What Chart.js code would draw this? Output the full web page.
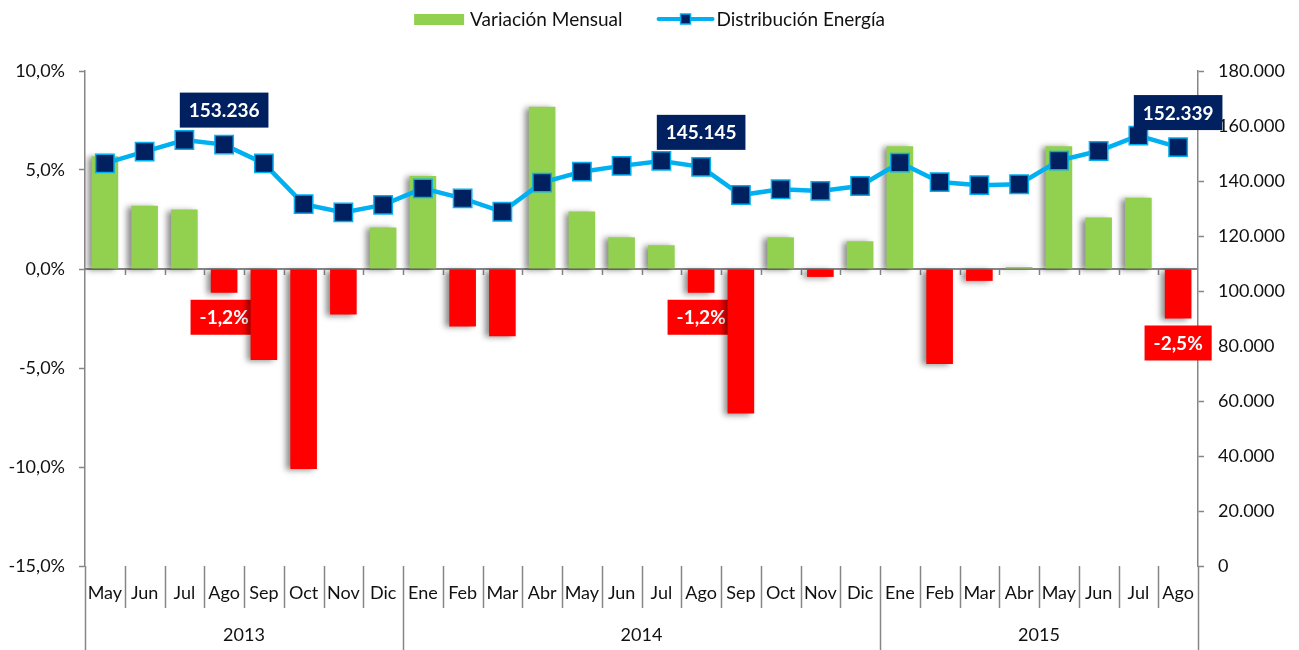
<!DOCTYPE html>
<html lang="es">
<head>
<meta charset="utf-8">
<title>Variación Mensual y Distribución Energía</title>
<script src="https://cdn.jsdelivr.net/npm/chart.js@4.4.0/dist/chart.umd.min.js"></script>
<style>
  html, body { margin: 0; padding: 0; background: #fff; }
  #wrap { width: 1299px; height: 650px; position: relative; }
</style>
</head>
<body>
<div id="wrap"><canvas id="energyChart"></canvas></div>
<script>
// data
const months = ["May", "Jun", "Jul", "Ago", "Sep", "Oct", "Nov", "Dic",
  "Ene", "Feb", "Mar", "Abr", "May", "Jun", "Jul", "Ago", "Sep", "Oct", "Nov", "Dic",
  "Ene", "Feb", "Mar", "Abr", "May", "Jun", "Jul", "Ago"];
const years = ["2013", "2014", "2015"];
const monthsPerYear = [8, 12, 8];

// % monthly change (left axis)
const variacion = [5.7, 3.2, 3.0, -1.2, -4.6, -10.1, -2.3, 2.1,
  4.7, -2.9, -3.4, 8.2, 2.9, 1.6, 1.2, -1.2, -7.3, 1.6, -0.4, 1.4,
  6.2, -4.8, -0.6, 0.1, 6.2, 2.6, 3.6, -2.5];

// energy distribution (right axis)
const distribucion = [146400, 150700, 154900, 153236, 146400, 131600, 128600, 131300,
  137300, 133700, 128800, 139400, 143400, 145500, 147300, 145145, 134900, 137000, 136400, 138200,
  146700, 139600, 138500, 138800, 147400, 150900, 156500, 152339];

const leftTicks = [-15, -10, -5, 0, 5, 10];
const rightTicks = [0, 20000, 40000, 60000, 80000, 100000, 120000, 140000, 160000, 180000];

const FONT = "Lato, 'Open Sans', sans-serif";
const GREEN = "#92D050";
const RED = "#FF0000";
const CYAN = "#00B0F0";
const NAVY = "#002060";
const AXIS = "#868686";

function pct(v) {
  return v.toFixed(1).replace(".", ",") + "%";
}
function miles(v) {
  return String(Math.round(v)).replace(/\B(?=(\d{3})+(?!\d))/g, ".");
}

function labelBox(ctx, text, cx, top, bg) {
  ctx.font = "bold 19px " + FONT;
  const w = ctx.measureText(text).width + 18;
  const h = 35;
  ctx.fillStyle = bg;
  ctx.fillRect(cx - w / 2, top, w, h);
  ctx.fillStyle = "#fff";
  ctx.textAlign = "center";
  ctx.textBaseline = "middle";
  ctx.fillText(text, cx, top + h / 2 + 1);
}

// bar shadows like the excel original
const barShadow = {
  id: "barShadow",
  beforeDatasetDraw(chart, args) {
    if (args.meta.type !== "bar") return;
    const ctx = chart.ctx;
    ctx.save();
    ctx.shadowColor = "rgba(0,0,0,0.45)";
    ctx.shadowBlur = 6;
    ctx.shadowOffsetX = -4;
    ctx.shadowOffsetY = 1;
  },
  afterDatasetDraw(chart, args) {
    if (args.meta.type !== "bar") return;
    chart.ctx.restore();
  }
};

const excelBits = {
  id: "excelBits",
  beforeDatasetsDraw(chart) {
    const { ctx, scales: { x, y } } = chart;
    const n = months.length;
    const w = (x.right - x.left) / n;
    const y0 = y.getPixelForValue(0);
    ctx.save();
    // category axis crossing at zero
    ctx.strokeStyle = AXIS;
    ctx.lineWidth = 2;
    ctx.beginPath();
    ctx.moveTo(x.left, y0);
    ctx.lineTo(x.right, y0);
    ctx.stroke();
    ctx.lineWidth = 1.5;
    ctx.beginPath();
    for (let i = 1; i < n; i++) {
      const px = Math.round(x.left + i * w) + 0.5;
      ctx.moveTo(px, y0);
      ctx.lineTo(px, y0 + 6);
    }
    ctx.stroke();
    // August labels under the bars (next bar covers them, as in the original)
    const bars = chart.getDatasetMeta(0).data;
    months.forEach((m, i) => {
      if (m !== "Ago") return;
      const b = bars[i];
      labelBox(ctx, pct(variacion[i]), b.x, b.y + 7, RED);
    });
    ctx.restore();
  },
  afterDatasetsDraw(chart) {
    const ctx = chart.ctx;
    const pts = chart.getDatasetMeta(1).data;
    ctx.save();
    months.forEach((m, i) => {
      if (m !== "Ago") return;
      const p = pts[i];
      labelBox(ctx, miles(distribucion[i]), p.x, p.y - 52, NAVY);
    });
    ctx.restore();
  },
  afterDraw(chart) {
    const { ctx, scales: { x } } = chart;
    const n = months.length;
    const w = (x.right - x.left) / n;
    const top = x.top;
    ctx.save();
    ctx.strokeStyle = AXIS;
    ctx.lineWidth = 1.5;
    ctx.beginPath();
    const groupEdges = [0];
    monthsPerYear.reduce((acc, c) => { groupEdges.push(acc + c); return acc + c; }, 0);
    for (let i = 0; i <= n; i++) {
      const px = Math.round(x.left + i * w) + 0.5;
      const long = groupEdges.includes(i);
      ctx.moveTo(px, top);
      ctx.lineTo(px, long ? chart.height : top + 42);
    }
    ctx.stroke();
    // year labels
    ctx.fillStyle = "#111";
    ctx.font = "18px " + FONT;
    ctx.textAlign = "center";
    ctx.textBaseline = "middle";
    years.forEach((yr, k) => {
      const cx = x.left + (groupEdges[k] + groupEdges[k + 1]) / 2 * w;
      ctx.fillText(yr, cx, top + 69);
    });

    // legend
    ctx.font = "19px " + FONT;
    const l1 = "Variación Mensual", l2 = "Distribución Energía";
    const t1 = ctx.measureText(l1).width, t2 = ctx.measureText(l2).width;
    const total = 50 + 6 + t1 + 36 + 54 + 4 + t2;
    let lx = chart.width / 2 - total / 2;
    const ly = 19;
    ctx.fillStyle = GREEN;
    ctx.fillRect(lx, ly - 5, 50, 11);
    lx += 56;
    ctx.fillStyle = "#111";
    ctx.textAlign = "left";
    ctx.fillText(l1, lx, ly + 1);
    lx += t1 + 36;
    ctx.strokeStyle = CYAN;
    ctx.lineWidth = 4;
    ctx.lineCap = "round";
    ctx.beginPath();
    ctx.moveTo(lx, ly);
    ctx.lineTo(lx + 54, ly);
    ctx.stroke();
    ctx.fillStyle = NAVY;
    ctx.fillRect(lx + 27 - 5, ly - 5, 10, 10);
    ctx.lineWidth = 1.5;
    ctx.strokeRect(lx + 27 - 5, ly - 5, 10, 10);
    lx += 58;
    ctx.fillStyle = "#111";
    ctx.fillText(l2, lx, ly + 1);
    ctx.restore();
  }
};

document.addEventListener("DOMContentLoaded", function () {
  const data = {
    labels: months,
    datasets: [
      {
        type: "bar",
        label: "Variación Mensual",
        data: variacion,
        yAxisID: "y",
        backgroundColor: variacion.map(v => (v < 0 ? RED : GREEN)),
        barPercentage: 0.67,
        categoryPercentage: 1,
        order: 1,
      },
      {
        type: "line",
        label: "Distribución Energía",
        data: distribucion,
        yAxisID: "y1",
        borderColor: CYAN,
        borderWidth: 4.5,
        tension: 0,
        pointStyle: "rect",
        pointRadius: 13,
        pointBackgroundColor: NAVY,
        pointBorderColor: CYAN,
        pointBorderWidth: 1.5,
        order: 0,
      },
    ],
  };

  const config = {
    data: data,
    options: {
      responsive: true,
      maintainAspectRatio: false,
      animation: false,
      layout: { padding: { top: 71, bottom: 0, left: 0, right: 0 } },
      scales: {
        x: {
          type: "category",
          offset: true,
          grid: { display: false },
          border: { display: false },
          ticks: {
            font: { family: FONT, size: 18 },
            color: "#111",
            padding: 8,
            maxRotation: 0,
            autoSkip: false,
          },
          afterFit(scale) { scale.height = 84; },
        },
        y: {
          position: "left",
          min: leftTicks[0],
          max: leftTicks[leftTicks.length - 1],
          grid: { drawOnChartArea: false, tickLength: 6, tickColor: AXIS, tickWidth: 1.5 },
          border: { color: AXIS, width: 1.5 },
          ticks: {
            stepSize: leftTicks[1] - leftTicks[0],
            font: { family: FONT, size: 18 },
            color: "#111",
            padding: 14,
            callback: v => pct(v),
          },
          afterFit(scale) { scale.width = 85; },
        },
        y1: {
          position: "right",
          min: rightTicks[0],
          max: rightTicks[rightTicks.length - 1],
          grid: { drawOnChartArea: false, tickLength: 6, tickColor: AXIS, tickWidth: 1.5 },
          border: { color: AXIS, width: 1.5 },
          ticks: {
            stepSize: rightTicks[1] - rightTicks[0],
            font: { family: FONT, size: 18 },
            color: "#111",
            padding: 14,
            callback: v => miles(v),
          },
          afterFit(scale) { scale.width = 101; },
        },
      },
      plugins: {
        legend: { display: false },
        title: { display: false },
        tooltip: { enabled: false },
      },
    },
    plugins: [barShadow, excelBits],
  };

  const ctx = document.getElementById("energyChart").getContext("2d");
  new Chart(ctx, config);
});
</script>
</body>
</html>
